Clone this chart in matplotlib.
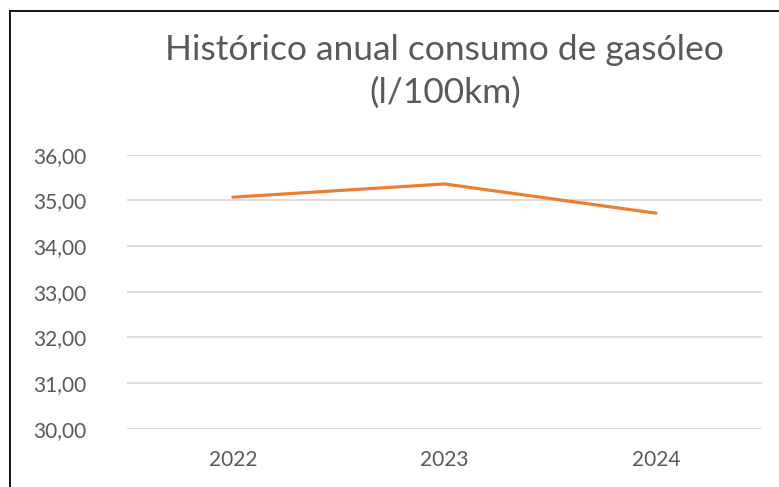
import matplotlib.pyplot as plt
from matplotlib.lines import Line2D
from matplotlib.ticker import FuncFormatter

years = ["2022", "2023", "2024"]
consumo = [35.07, 35.36, 34.72]
y_ticks = [30, 31, 32, 33, 34, 35, 36]

TEXT_GREY = "#595959"
GRID_GREY = "#D9D9D9"
ORANGE = "#ED7D31"

plt.rcParams["font.family"] = ["Lato", "DejaVu Sans"]

fig = plt.figure(figsize=(7.79, 4.87), dpi=100)
ax = fig.add_axes([0.163, 0.1197, 0.815, 0.5626])

x = list(range(len(years)))
ax.plot(x, consumo, color=ORANGE, linewidth=2.3, solid_capstyle="round")

ax.set_xlim(-0.5, len(years) - 0.5)
ax.set_ylim(30, 36)
ax.set_yticks(y_ticks)
ax.yaxis.set_major_formatter(FuncFormatter(lambda v, _: f"{v:.2f}".replace(".", ",")))
ax.set_xticks(x)
ax.set_xticklabels(years)

ax.grid(axis="y", color=GRID_GREY, linewidth=1.3)
ax.set_axisbelow(True)
for side in ax.spines.values():
    side.set_visible(False)
ax.tick_params(axis="both", length=0, labelsize=15, colors=TEXT_GREY)
ax.tick_params(axis="y", pad=29)
ax.tick_params(axis="x", pad=15)

fig.text(0.571, 0.853, "Histórico anual consumo de gasóleo\n(l/100km)",
         ha="center", va="center", fontsize=25.5, color=TEXT_GREY,
         linespacing=1.4)

# chart frame (top and left edges visible in the crop)
fig.add_artist(Line2D([10 / 779, 1], [1 - 11 / 487, 1 - 11 / 487],
                      transform=fig.transFigure, color="black", linewidth=1.3))
fig.add_artist(Line2D([10 / 779, 10 / 779], [0, 1 - 11 / 487],
                      transform=fig.transFigure, color="black", linewidth=1.3))

fig.savefig("out.png", dpi=100)
